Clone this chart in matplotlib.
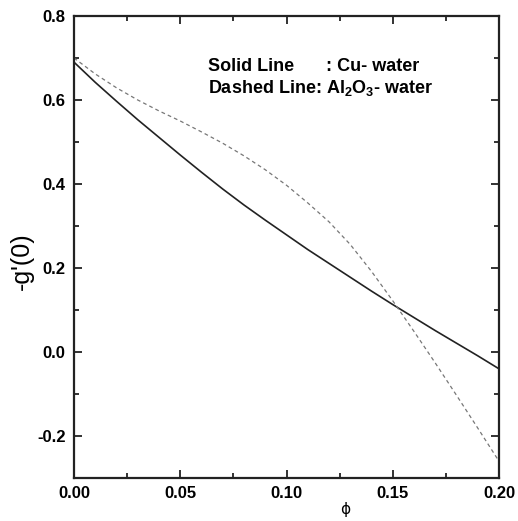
import matplotlib
matplotlib.use("Agg")
import matplotlib.pyplot as plt
from matplotlib import font_manager
from matplotlib.ticker import MultipleLocator

names = {f.name for f in font_manager.fontManager.ttflist}
narrow = "Liberation Sans Narrow" if "Liberation Sans Narrow" in names else "Liberation Sans"

plt.rcParams['mathtext.default'] = 'regular'

phi = [0.00, 0.01, 0.02, 0.03, 0.04, 0.05, 0.06, 0.07, 0.08, 0.09, 0.10,
       0.11, 0.12, 0.13, 0.14, 0.15, 0.16, 0.17, 0.18, 0.19, 0.20]
cu_water = [0.690, 0.642, 0.597, 0.553, 0.511, 0.469, 0.428, 0.388, 0.350, 0.314, 0.279,
            0.244, 0.211, 0.178, 0.145, 0.113, 0.082, 0.051, 0.021, -0.009, -0.040]
al2o3_water = [0.700, 0.662, 0.629, 0.600, 0.574, 0.550, 0.524, 0.497, 0.467, 0.434, 0.397,
               0.355, 0.310, 0.256, 0.192, 0.122, 0.049, -0.026, -0.103, -0.181, -0.260]

xticks = [0.00, 0.05, 0.10, 0.15, 0.20]
yticks = [-0.2, 0.0, 0.2, 0.4, 0.6, 0.8]

fig = plt.figure(figsize=(5.18, 5.21), dpi=100)
ax = fig.add_axes([0.1429, 0.0825, 0.8204, 0.8868])

ax.plot(phi, cu_water, color='#222222', lw=1.2, solid_joinstyle='round')
ax.plot(phi, al2o3_water, color='#777777', lw=0.9, dashes=(3, 2.5))

ax.set_xlim(0.0, 0.2)
ax.set_ylim(-0.3, 0.8)
ax.set_xticks(xticks)
ax.set_yticks(yticks)
ax.xaxis.set_minor_locator(MultipleLocator(0.025))
ax.yaxis.set_minor_locator(MultipleLocator(0.1))

tfont = dict(family=[narrow, 'DejaVu Sans'], weight='bold', size=12)
ax.set_xticklabels([f"{v:.2f}" for v in xticks], **tfont)
ax.set_yticklabels([f"{v:.1f}" for v in yticks], **tfont)

ax.tick_params(which='both', direction='in', top=True, right=True, width=1.3, color='#222222')
ax.tick_params(which='major', length=6, pad=6)
ax.tick_params(which='minor', length=3.5)
for s in ax.spines.values():
    s.set_linewidth(1.6)
    s.set_color('#222222')

ax.set_ylabel("-g'(0)", family=['Liberation Sans', 'DejaVu Sans'], size=18)
ax.yaxis.set_label_coords(-0.095, 0.47)
ax.set_xlabel("ϕ", family=['DejaVu Sans'], size=11)
ax.xaxis.set_label_coords(0.638, -0.052)

afont = dict(family=[narrow, 'DejaVu Sans'], weight='bold', size=13, va='center', ha='left')
ax.text(0.063, 0.680, "Solid Line", **afont)
ax.text(0.1186, 0.680, ": Cu- water", **afont)
ax.text(0.063, 0.628, "Dashed Line: Al$_2$O$_3$- water", **afont)

fig.savefig("out.png", dpi=100)
